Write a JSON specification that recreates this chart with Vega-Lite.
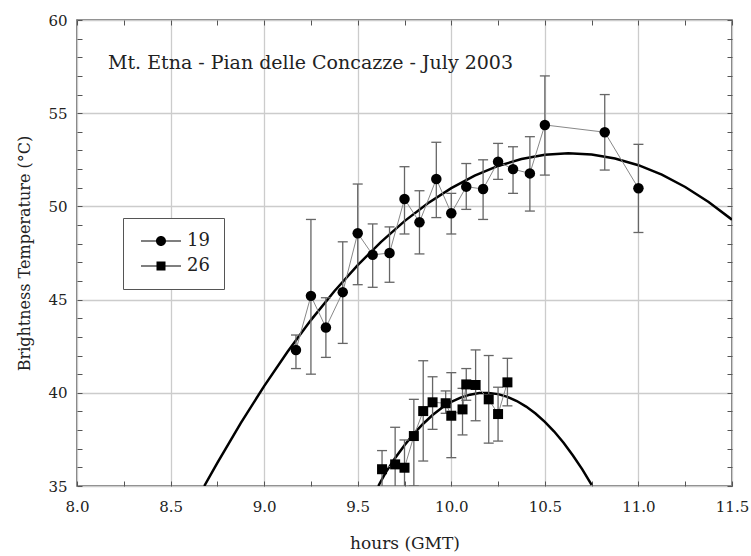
{
  "$schema": "https://vega.github.io/schema/vega-lite/v6.json",
  "width": 655,
  "height": 466,
  "autosize": "none",
  "padding": {"left": 77, "top": 20, "right": 19, "bottom": 70},
  "background": "white",
  "config": {
    "view": {"stroke": "#555", "strokeWidth": 1.5},
    "font": "DejaVu Serif"
  },
  "title": {
    "text": "Mt. Etna - Pian delle Concazze - July 2003",
    "anchor": "start",
    "frame": "group",
    "orient": "top",
    "offset": -60,
    "dx": 31,
    "font": "DejaVu Serif",
    "fontSize": 19,
    "fontWeight": "normal",
    "color": "#222"
  },
  "datasets": {
    "obs": [
      {"series": "19", "hours": 9.17, "temp": 42.3, "lo": 41.3, "hi": 43.1},
      {"series": "19", "hours": 9.25, "temp": 45.2, "lo": 41.0, "hi": 49.3},
      {"series": "19", "hours": 9.33, "temp": 43.5, "lo": 41.9, "hi": 45.1},
      {"series": "19", "hours": 9.42, "temp": 45.4, "lo": 42.65, "hi": 48.1},
      {"series": "19", "hours": 9.5, "temp": 48.56, "lo": 45.8, "hi": 51.2},
      {"series": "19", "hours": 9.58, "temp": 47.4, "lo": 45.66, "hi": 49.06},
      {"series": "19", "hours": 9.67, "temp": 47.5, "lo": 45.93, "hi": 48.9},
      {"series": "19", "hours": 9.75, "temp": 50.4, "lo": 48.52, "hi": 52.13},
      {"series": "19", "hours": 9.83, "temp": 49.15, "lo": 47.45, "hi": 50.84},
      {"series": "19", "hours": 9.92, "temp": 51.47, "lo": 49.4, "hi": 53.44},
      {"series": "19", "hours": 10.0, "temp": 49.63, "lo": 48.52, "hi": 50.7},
      {"series": "19", "hours": 10.08, "temp": 51.06, "lo": 49.84, "hi": 52.3},
      {"series": "19", "hours": 10.17, "temp": 50.93, "lo": 49.3, "hi": 52.5},
      {"series": "19", "hours": 10.25, "temp": 52.4, "lo": 51.45, "hi": 53.38},
      {"series": "19", "hours": 10.33, "temp": 52.0, "lo": 50.7, "hi": 53.2},
      {"series": "19", "hours": 10.42, "temp": 51.77, "lo": 49.75, "hi": 53.74},
      {"series": "19", "hours": 10.5, "temp": 54.37, "lo": 51.68, "hi": 57.0},
      {"series": "19", "hours": 10.82, "temp": 53.98, "lo": 51.95, "hi": 56.0},
      {"series": "19", "hours": 11.0, "temp": 50.97, "lo": 48.6, "hi": 53.33},
      {"series": "26", "hours": 9.63, "temp": 35.9, "lo": 34.6, "hi": 36.9},
      {"series": "26", "hours": 9.7, "temp": 36.16, "lo": 34.2, "hi": 38.15},
      {"series": "26", "hours": 9.75, "temp": 35.98, "lo": 34.5, "hi": 37.47},
      {"series": "26", "hours": 9.8, "temp": 37.68, "lo": 35.0, "hi": 39.65},
      {"series": "26", "hours": 9.85, "temp": 39.02, "lo": 36.34, "hi": 41.72},
      {"series": "26", "hours": 9.9, "temp": 39.49, "lo": 38.04, "hi": 40.86},
      {"series": "26", "hours": 9.97, "temp": 39.44, "lo": 38.9, "hi": 40.1},
      {"series": "26", "hours": 10.0, "temp": 38.77, "lo": 36.52, "hi": 41.08},
      {"series": "26", "hours": 10.06, "temp": 39.11, "lo": 37.74, "hi": 40.24},
      {"series": "26", "hours": 10.08, "temp": 40.45, "lo": 39.6, "hi": 41.3},
      {"series": "26", "hours": 10.13, "temp": 40.42, "lo": 38.5, "hi": 42.3},
      {"series": "26", "hours": 10.2, "temp": 39.65, "lo": 37.3, "hi": 42.0},
      {"series": "26", "hours": 10.25, "temp": 38.86, "lo": 37.41, "hi": 40.3},
      {"series": "26", "hours": 10.3, "temp": 40.56, "lo": 39.3, "hi": 41.85}
    ],
    "fit": [
      {"series": "19", "hours": 8.68, "temp": 35.0},
      {"series": "19", "hours": 8.75, "temp": 36.24},
      {"series": "19", "hours": 8.875, "temp": 38.37},
      {"series": "19", "hours": 9.0, "temp": 40.36},
      {"series": "19", "hours": 9.125, "temp": 42.2},
      {"series": "19", "hours": 9.25, "temp": 43.9},
      {"series": "19", "hours": 9.375, "temp": 45.45},
      {"series": "19", "hours": 9.5, "temp": 46.85},
      {"series": "19", "hours": 9.625, "temp": 48.1},
      {"series": "19", "hours": 9.75, "temp": 49.21},
      {"series": "19", "hours": 9.875, "temp": 50.17},
      {"series": "19", "hours": 10.0, "temp": 50.98},
      {"series": "19", "hours": 10.125, "temp": 51.65},
      {"series": "19", "hours": 10.25, "temp": 52.17},
      {"series": "19", "hours": 10.375, "temp": 52.54},
      {"series": "19", "hours": 10.5, "temp": 52.77},
      {"series": "19", "hours": 10.625, "temp": 52.85},
      {"series": "19", "hours": 10.75, "temp": 52.78},
      {"series": "19", "hours": 10.875, "temp": 52.57},
      {"series": "19", "hours": 11.0, "temp": 52.21},
      {"series": "19", "hours": 11.125, "temp": 51.7},
      {"series": "19", "hours": 11.25, "temp": 51.04},
      {"series": "19", "hours": 11.375, "temp": 50.24},
      {"series": "19", "hours": 11.5, "temp": 49.29},
      {"series": "26", "hours": 9.61, "temp": 35.0},
      {"series": "26", "hours": 9.65, "temp": 35.73},
      {"series": "26", "hours": 9.7, "temp": 36.5},
      {"series": "26", "hours": 9.75, "temp": 37.19},
      {"series": "26", "hours": 9.8, "temp": 37.81},
      {"series": "26", "hours": 9.85, "temp": 38.34},
      {"series": "26", "hours": 9.9, "temp": 38.81},
      {"series": "26", "hours": 9.95, "temp": 39.2},
      {"series": "26", "hours": 10.0, "temp": 39.51},
      {"series": "26", "hours": 10.05, "temp": 39.74},
      {"series": "26", "hours": 10.1, "temp": 39.9},
      {"series": "26", "hours": 10.15, "temp": 39.99},
      {"series": "26", "hours": 10.2, "temp": 39.99},
      {"series": "26", "hours": 10.25, "temp": 39.93},
      {"series": "26", "hours": 10.3, "temp": 39.78},
      {"series": "26", "hours": 10.35, "temp": 39.56},
      {"series": "26", "hours": 10.4, "temp": 39.26},
      {"series": "26", "hours": 10.45, "temp": 38.89},
      {"series": "26", "hours": 10.5, "temp": 38.44},
      {"series": "26", "hours": 10.55, "temp": 37.92},
      {"series": "26", "hours": 10.6, "temp": 37.32},
      {"series": "26", "hours": 10.65, "temp": 36.64},
      {"series": "26", "hours": 10.7, "temp": 35.89},
      {"series": "26", "hours": 10.75, "temp": 35.06}
    ]
  },
  "layer": [
    {
      "data": {"name": "fit"},
      "mark": {"type": "line", "color": "black", "strokeWidth": 2.5, "clip": true},
      "encoding": {
        "x": {
          "field": "hours", "type": "quantitative",
          "scale": {"domain": [8, 11.5], "nice": false, "zero": false},
          "axis": {
            "orient": "bottom",
            "title": "hours (GMT)",
            "values": [8, 8.25, 8.5, 8.75, 9, 9.25, 9.5, 9.75, 10, 10.25, 10.5, 10.75, 11, 11.25, 11.5],
            "format": ".1f",
            "labelExpr": "(datum.value * 2) % 1 === 0 ? datum.label : ''",
            "labelOverlap": false,
            "labelFlush": false,
            "labelFont": "DejaVu Serif",
            "labelFontSize": 15,
            "labelColor": "#222",
            "labelPadding": 18,
            "domain": false,
            "ticks": true,
            "tickSize": -5,
            "tickColor": "#555",
            "tickWidth": 1,
            "grid": true,
            "gridColor": "#cccccc",
            "gridWidth": 1.3,
            "gridOpacity": {"condition": {"test": "(datum.value * 2) % 1 === 0", "value": 1}, "value": 0},
            "titleFont": "DejaVu Serif",
            "titleFontSize": 17,
            "titleFontWeight": "normal",
            "titleColor": "#222",
            "titlePadding": 21
          }
        },
        "y": {
          "field": "temp", "type": "quantitative",
          "scale": {"domain": [35, 60], "nice": false, "zero": false},
          "axis": {
            "orient": "left",
            "title": "Brightness Temperature (°C)",
            "values": [35, 36, 37, 38, 39, 40, 41, 42, 43, 44, 45, 46, 47, 48, 49, 50, 51, 52, 53, 54, 55, 56, 57, 58, 59, 60],
            "labelExpr": "datum.value % 5 === 0 ? datum.label : ''",
            "labelOverlap": false,
            "labelFlush": false,
            "labelFont": "DejaVu Serif",
            "labelFontSize": 15,
            "labelColor": "#222",
            "labelPadding": 15,
            "domain": false,
            "ticks": true,
            "tickSize": -5,
            "tickColor": "#555",
            "tickWidth": 1,
            "grid": true,
            "gridColor": "#cccccc",
            "gridWidth": 1.3,
            "gridOpacity": {"condition": {"test": "datum.value % 5 === 0", "value": 1}, "value": 0},
            "titleFont": "DejaVu Serif",
            "titleFontSize": 16,
            "titleFontWeight": "normal",
            "titleColor": "#222",
            "titlePadding": 15
          }
        },
        "detail": {"field": "series"}
      }
    },
    {
      "data": {"name": "obs"},
      "mark": {"type": "line", "color": "#888", "strokeWidth": 1, "clip": true},
      "encoding": {
        "x": {
          "field": "hours", "type": "quantitative",
          "axis": {
            "orient": "top", "title": null, "labels": false, "domain": false, "grid": false,
            "values": [8, 8.25, 8.5, 8.75, 9, 9.25, 9.5, 9.75, 10, 10.25, 10.5, 10.75, 11, 11.25, 11.5],
            "ticks": true, "tickSize": -5, "tickColor": "#555", "tickWidth": 1
          }
        },
        "y": {
          "field": "temp", "type": "quantitative",
          "axis": {
            "orient": "right", "title": null, "labels": false, "domain": false, "grid": false,
            "values": [35, 36, 37, 38, 39, 40, 41, 42, 43, 44, 45, 46, 47, 48, 49, 50, 51, 52, 53, 54, 55, 56, 57, 58, 59, 60],
            "ticks": true, "tickSize": -5, "tickColor": "#555", "tickWidth": 1
          }
        },
        "detail": {"field": "series"}
      }
    },
    {
      "data": {"name": "obs"},
      "mark": {"type": "rule", "color": "#666", "strokeWidth": 1.3, "clip": true},
      "encoding": {
        "x": {"field": "hours", "type": "quantitative", "axis": null},
        "y": {"field": "lo", "type": "quantitative", "axis": null},
        "y2": {"field": "hi"}
      }
    },
    {
      "data": {"name": "obs"},
      "mark": {"type": "tick", "orient": "horizontal", "size": 10, "thickness": 1.3, "color": "#666", "opacity": 1, "clip": true},
      "encoding": {
        "x": {"field": "hours", "type": "quantitative", "axis": null},
        "y": {"field": "lo", "type": "quantitative", "axis": null}
      }
    },
    {
      "data": {"name": "obs"},
      "mark": {"type": "tick", "orient": "horizontal", "size": 10, "thickness": 1.3, "color": "#666", "opacity": 1, "clip": true},
      "encoding": {
        "x": {"field": "hours", "type": "quantitative", "axis": null},
        "y": {"field": "hi", "type": "quantitative", "axis": null}
      }
    },
    {
      "data": {"name": "obs"},
      "transform": [{"filter": "datum.series === '19'"}],
      "mark": {"type": "point", "shape": "circle", "filled": true, "color": "black", "opacity": 1, "size": 110, "clip": true},
      "encoding": {
        "x": {"field": "hours", "type": "quantitative", "axis": null},
        "y": {"field": "temp", "type": "quantitative", "axis": null}
      }
    },
    {
      "data": {"name": "obs"},
      "transform": [{"filter": "datum.series === '26'"}],
      "mark": {"type": "point", "shape": "square", "filled": true, "color": "black", "opacity": 1, "size": 100, "clip": true},
      "encoding": {
        "x": {"field": "hours", "type": "quantitative", "axis": null},
        "y": {"field": "temp", "type": "quantitative", "axis": null}
      }
    },
    {
      "data": {"name": "obs"},
      "mark": {"type": "point", "filled": true, "color": "black", "opacity": 0, "size": 100},
      "encoding": {
        "x": {"field": "hours", "type": "quantitative", "axis": null},
        "y": {"field": "temp", "type": "quantitative", "axis": null},
        "shape": {
          "field": "series", "type": "nominal",
          "scale": {
            "domain": ["19", "26"],
            "range": ["M-1,-0.12H7V0.12H-1ZM4,0A1,1,0,1,1,2,0A1,1,0,1,1,4,0Z", "M-1,-0.12H7V0.12H-1ZM2.1,-0.9H3.9V0.9H2.1Z"]
          },
          "legend": {
            "title": null,
            "orient": "none",
            "legendX": 46,
            "legendY": 198,
            "symbolSize": 100,
            "symbolFillColor": "black",
            "symbolOpacity": 1,
            "labelFont": "DejaVu Serif",
            "labelFontSize": 18,
            "labelColor": "#222",
            "labelOffset": 32,
            "padding": 14,
            "rowPadding": 7,
            "strokeColor": "#555",
            "fillColor": "white"
          }
        }
      }
    }
  ]
}
